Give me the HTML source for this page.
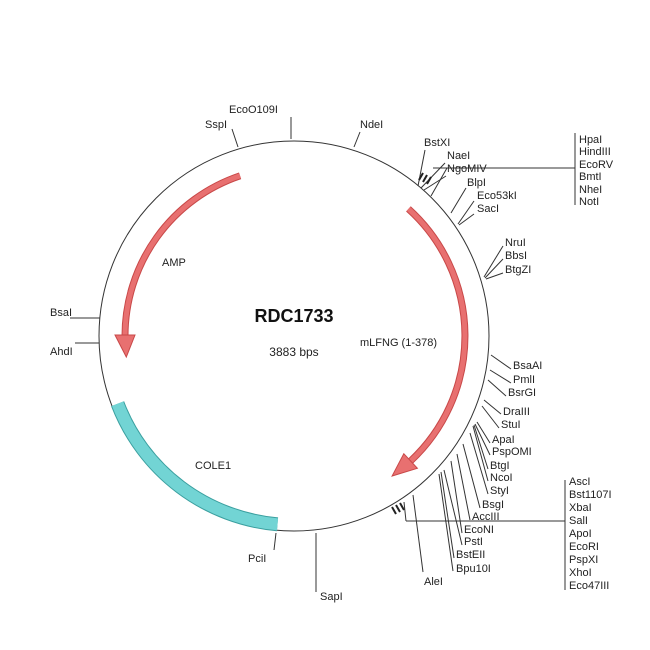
<!DOCTYPE html>
<html><head><style>
body{margin:0;background:#fff}
svg{display:block}
text{font-family:"Liberation Sans",sans-serif;font-size:11px;fill:#222}
</style></head><body>
<svg width="650" height="650" viewBox="0 0 650 650">
<circle cx="294" cy="336" r="195" fill="none" stroke="#333" stroke-width="1"/>
<!-- COLE1 -->
<path d="M117.6,403.7 A189,189 0 0 0 277.5,524.3" fill="none" stroke="#3a9f9f" stroke-width="14"/>
<path d="M117.6,403.7 A189,189 0 0 0 277.5,524.3" fill="none" stroke="#72d4d4" stroke-width="12"/>
<!-- AMP -->
<path d="M240.1,175.8 A169,169 0 0 0 125,336" fill="none" stroke="#c84848" stroke-width="7"/>
<path d="M240.1,175.8 A169,169 0 0 0 125,336" fill="none" stroke="#e87070" stroke-width="5"/>
<polygon points="115,335 135,335 126.3,357" fill="#e87070" stroke="#c84848" stroke-width="1"/>
<!-- mLFNG -->
<path d="M408.4,208.9 A171,171 0 0 1 410.6,461" fill="none" stroke="#c84848" stroke-width="7"/>
<path d="M408.4,208.9 A171,171 0 0 1 410.6,461" fill="none" stroke="#e87070" stroke-width="5"/>
<polygon points="403.8,453.7 417.4,468.3 392.1,476" fill="#e87070" stroke="#c84848" stroke-width="1"/>

<text x="294" y="322" text-anchor="middle" style="font-size:18px;font-weight:bold;fill:#111">RDC1733</text>
<text x="294" y="356" text-anchor="middle" style="font-size:12px">3883 bps</text>
<text x="162" y="266">AMP</text>
<text x="360" y="346">mLFNG (1-378)</text>
<text x="195" y="469">COLE1</text>

<g stroke="#333" stroke-width="1" fill="none">
<line x1="232" y1="129" x2="238" y2="147"/>
<line x1="291" y1="117" x2="291" y2="139"/>
<line x1="360" y1="132" x2="354" y2="147"/>
<line x1="100" y1="318" x2="70" y2="318"/>
<line x1="99" y1="343" x2="75" y2="343"/>
<line x1="276" y1="533" x2="274" y2="550"/>
<line x1="316" y1="533" x2="316" y2="592"/>
<!-- upper right -->
<line x1="418" y1="186" x2="425" y2="150"/>
<line x1="421" y1="188" x2="445" y2="163"/>
<line x1="424" y1="190" x2="446" y2="176"/>
<line x1="431" y1="196" x2="447" y2="168"/>
<line x1="433" y1="168" x2="575" y2="168"/>
<line x1="575" y1="133" x2="575" y2="205"/>
<line x1="451" y1="213" x2="466" y2="188"/>
<line x1="458" y1="224" x2="474" y2="201"/>
<line x1="459" y1="225" x2="474" y2="214"/>
<line x1="484" y1="277" x2="503" y2="246"/>
<line x1="485" y1="278" x2="503" y2="259"/>
<line x1="486" y1="279" x2="503" y2="273"/>
<!-- lower right -->
<line x1="491" y1="355" x2="511" y2="369"/>
<line x1="490" y1="370" x2="511" y2="383"/>
<line x1="488" y1="380" x2="506" y2="396"/>
<line x1="484" y1="400" x2="501" y2="414"/>
<line x1="482" y1="406" x2="499" y2="428"/>
<line x1="477" y1="422" x2="490" y2="443"/>
<line x1="475" y1="424" x2="490" y2="455"/>
<line x1="474" y1="425" x2="488" y2="469"/>
<line x1="473" y1="426" x2="488" y2="481"/>
<line x1="470" y1="433" x2="488" y2="494"/>
<line x1="463" y1="444" x2="480" y2="508"/>
<line x1="457" y1="454" x2="470" y2="520"/>
<line x1="451" y1="461" x2="462" y2="533"/>
<line x1="444" y1="470" x2="462" y2="545"/>
<line x1="441" y1="472" x2="454" y2="558"/>
<line x1="439" y1="474" x2="453" y2="571"/>
<line x1="413" y1="495" x2="423" y2="572"/>
<line x1="404" y1="502" x2="406" y2="521"/>
<line x1="406" y1="521" x2="565" y2="521"/>
<line x1="565" y1="480" x2="565" y2="590"/>
</g>
<g stroke="#222" stroke-width="2">
<line x1="419" y1="180" x2="423" y2="173"/>
<line x1="423" y1="182" x2="427" y2="175"/>
<line x1="427" y1="184" x2="431" y2="177"/>
<line x1="392" y1="507" x2="396" y2="514"/>
<line x1="396" y1="505" x2="400" y2="512"/>
<line x1="400" y1="503" x2="404" y2="510"/>
</g>
<text x="205" y="128">SspI</text>
<text x="229" y="113">EcoO109I</text>
<text x="360" y="128">NdeI</text>
<text x="50" y="316">BsaI</text>
<text x="50" y="355">AhdI</text>
<text x="248" y="562">PciI</text>
<text x="320" y="600">SapI</text>
<text x="424" y="146">BstXI</text>
<text x="447" y="159">NaeI</text>
<text x="447" y="172">NgoMIV</text>
<text x="467" y="186">BlpI</text>
<text x="477" y="199">Eco53kI</text>
<text x="477" y="212">SacI</text>
<text x="579" y="143">HpaI</text>
<text x="579" y="155">HindIII</text>
<text x="579" y="168">EcoRV</text>
<text x="579" y="180">BmtI</text>
<text x="579" y="193">NheI</text>
<text x="579" y="205">NotI</text>
<text x="505" y="246">NruI</text>
<text x="505" y="259">BbsI</text>
<text x="505" y="273">BtgZI</text>
<text x="513" y="369">BsaAI</text>
<text x="513" y="383">PmlI</text>
<text x="508" y="396">BsrGI</text>
<text x="503" y="415">DraIII</text>
<text x="501" y="428">StuI</text>
<text x="492" y="443">ApaI</text>
<text x="492" y="455">PspOMI</text>
<text x="490" y="469">BtgI</text>
<text x="490" y="481">NcoI</text>
<text x="490" y="494">StyI</text>
<text x="482" y="508">BsgI</text>
<text x="472" y="520">AccIII</text>
<text x="464" y="533">EcoNI</text>
<text x="464" y="545">PstI</text>
<text x="456" y="558">BstEII</text>
<text x="456" y="572">Bpu10I</text>
<text x="424" y="585">AleI</text>
<text x="569" y="485">AscI</text>
<text x="569" y="498">Bst1107I</text>
<text x="569" y="511">XbaI</text>
<text x="569" y="524">SalI</text>
<text x="569" y="537">ApoI</text>
<text x="569" y="550">EcoRI</text>
<text x="569" y="563">PspXI</text>
<text x="569" y="576">XhoI</text>
<text x="569" y="589">Eco47III</text>
</svg>
</body></html>
